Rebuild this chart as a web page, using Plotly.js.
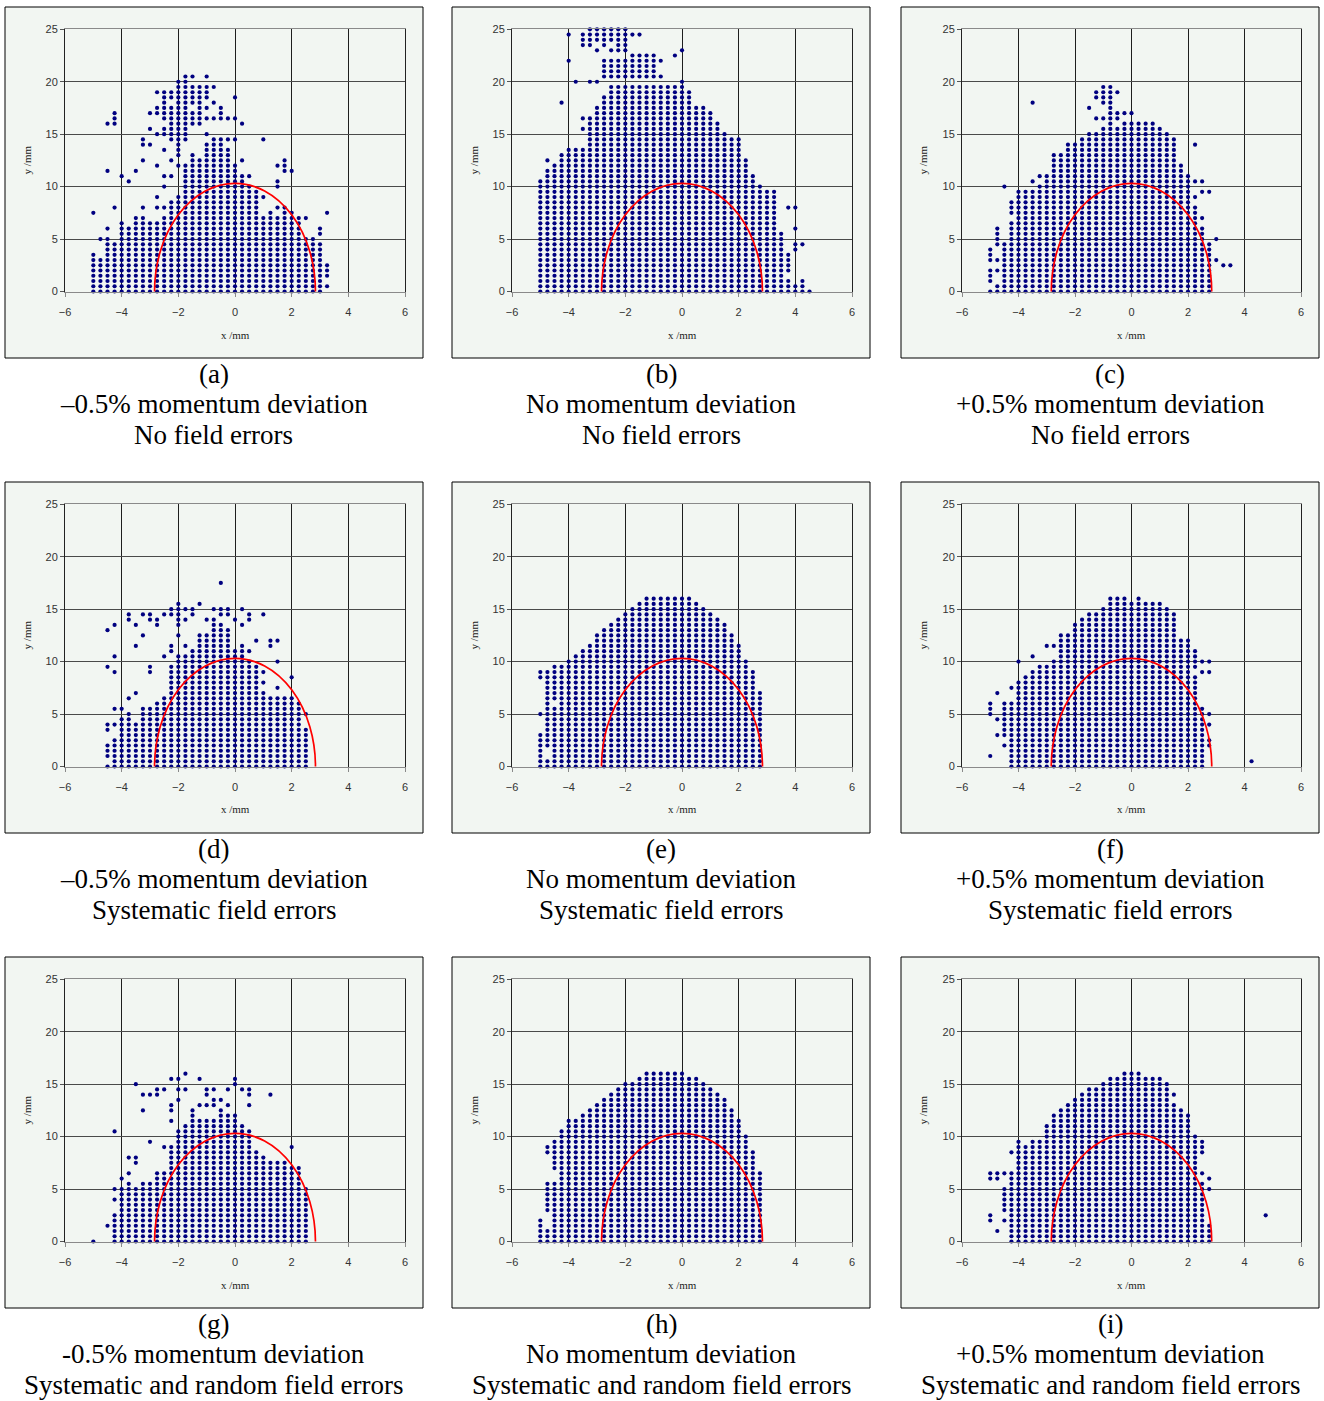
<!DOCTYPE html>
<html>
<head>
<meta charset="utf-8">
<script src="https://cdn.plot.ly/plotly-3.0.1.min.js"></script>
<style>html,body{margin:0;padding:0;background:#fff;}#chart{width:1324px;height:1401px;}</style>
</head>
<body>
<div id="chart"></div>
<script>
// Scan grid (mm)
const xCols = [-5,-4.75,-4.5,-4.25,-4,-3.75,-3.5,-3.25,-3,-2.75,-2.5,-2.25,-2,-1.75,-1.5,-1.25,-1,-0.75,-0.5,-0.25,
               0,0.25,0.5,0.75,1,1.25,1.5,1.75,2,2.25,2.5,2.75,3,3.25,3.5,3.75,4,4.25,4.5,4.75];
const yGrid = [0,0.5,1,1.5,2,2.5,3,3.5,4,4.5,5,5.5,6,6.5,7,7.5,8,8.5,9,9.5,10,10.5,11,11.5,12,12.5,
               13,13.5,14,14.5,15,15.5,16,16.5,17,17.5,18,18.5,19,19.5,20,20.5,21,21.5,22,22.5,23,23.5,24,24.5,25];

// Surviving y values per x column (index matches xCols): "lo-hi" runs or single values
const colsA = ["0-3.5,7.5","0-3,5","0-5,6,11.5,16","0-4.5,8,16-17","0-6.5,11","0-6,10.5","0-7,11.5","0-7,8,12.5,14-14.5",
  "0-6.5,14,15.5,17","0-6.5,8,9,12,15,17-17.5,19","0-7,8,10,11,13.5,15-15.5,16.5-19","0-8.5,11,12.5,14.5-17.5,18.5-19",
  "0-9,12,13-20","0-12,14.5-20.5","0-13,16-17,18-19.5,20.5","0-12.5,16-19.5","0-14,15,16.5,17.5,18.5-19.5,20.5",
  "0-14.5,16.5,18,19.5","0-14.5,16.5-17.5","0-13.5,14.5,16.5","0-12,14.5,16.5,18.5","0-11,12.5,16","0-10,11","0-9.5",
  "0-7,9,14.5","0-7.5","0-7,8,10-10.5,12","0-8,11.5-12.5","0-7.5,11.5","0-7","0-5,7","0-5","0-4.5,5.5-6","0.5,1.5-2.5,7.5"];
const colsB = ["0-10.5","0-11.5,12.5","0-12","0-13,18","0-13.5,22,24.5","0-13.5,20","0-13.5,15.5,16.5,23.5-24.5",
  "0-16.5,20,23.5-25","0-17.5,20,23,24-25","0-18.5,20.5-22,23.5-25","0-19.5,20.5-22,23,24-25","0-19.5,20.5-22,23-25",
  "0-19.5,20.5-22,23-25","0-19.5,20.5-22.5,24.5","0-19.5,20.5-22.5,24.5","0-19.5,20.5-22.5","0-19.5,20.5-22.5",
  "0-19.5,20.5,22","0-19.5","0-19.5,22.5","0-20,23","0-19","0-17.5","0-17.5","0-17","0-16","0-15","0-14.5","0-14.5",
  "0-12.5","0-11","0-10","0-9.5","0-9.5","0-5.5","0-1,2-3.5,8","0-0.5,4-4.5,6,8","0-1,4.5","0"];
const colsC = ["0,1-2,3-4","0-0.5,2,3,4.5,5-6","0-4.5,10","0-6.5,7.5-8.5","0-9.5","0-9.5","0-9.5,10.5,18","0-10,11","0-11",
  "0-13","0-13","0-14","0-14","0-14.5","0-15,17.5","0-15,16.5,18.5-19","0-15.5,16.5,18-19.5","0-19.5",
  "0-15.5,16.5-17,19","0-16,17","0-16,17","0-16","0-16","0-16","0-15.5","0-15","0-14.5","0-12","0-11",
  "0-8,9,10.5,14","0-6,7,9.5,10.5","0-4.5,9.5","3,5","2.5","2.5"];
const colsD = ["","","0,1-2,3.5-4,9.5,13","0-2.5,4,5.5,9,10.5,13.5","0-4.5,5.5","0-5,6.5,14-14.5","0-4,7,11.5,13.5",
  "0-5.5,12.5,14.5","0-5.5,9-9.5,14-14.5","0-6,13.5-14","0-6.5,10.5,14.5","0-9.5,11-11.5,14.5-15",
  "0-10.5,12.5,13.5-15.5","0-10.5,11.5,14,15","0-11,14.5-15","0-12.5,15.5","0-12.5,14","0-14,15","0-13.5,14.5-15,17.5",
  "0-13,14.5-15","0-11,14","0-11.5,13.5,15","0-10,11,14-14.5","0-9.5,12","0-7,8,9,14.5","0-6.5,11.5-12",
  "0-6.5,7.5,10,12","0-6.5","0-6.5,8.5","0-6","0-3.5,5"];
const colsE = ["0-3,5,8.5-9","0-0.5,2-9","0-5.5,6.5-9.5","0-9.5","0-10","0-10.5","0-11","0-11.5","0-12.5","0-13",
  "0-13.5","0-14","0-14.5","0-15","0-15.5","0-16","0-16","0-16","0-16","0-16","0-16","0-16","0-15.5","0-15",
  "0-14.5","0-14","0-13.5","0-12.5","0-11.5","0-10","0-9","0-7"];
const colsF = ["1,5-6","3,4.5,7","2,3-6","0-6,7.5","0-8,10","0-8.5","0-9,10.5","0-9.5","0-9.5,11.5","0-10,11.5",
  "0-12.5","0-12.5","0-13.5","0-14","0-14.5","0-14.5","0-15","0-16","0-16","0-16","0-15.5","0-16","0-15.5",
  "0-15.5","0-15.5","0-15","0-14.5","0-12","0-12","0-8.5,9.5-11","0-5.5,9,10","2-2.5,4,5,9,10","","","","","","0.5"];
const colsG = ["0","","1.5","0-2.5,4,5,10.5","0-5,6","0-5.5,6.5,8","0-5,7.5-8,15","0-5.5,12.5,14","0-5.5,9.5,14",
  "0-6.5,14-14.5","0-6.5,9,14.5","0-9,11.5,12.5-13,15.5","0-10.5,13.5,14.5,15.5","0-11,14.5,16","0-12.5",
  "0-11.5,13,15.5","0-11.5,13,14-14.5","0-11.5,13-13.5,14.5","0-12.5,13.5","0-12,13,14.5","0-12,15-15.5",
  "0-11,14.5","0-10.5,13,14-14.5","0-8.5","0-8","0-7.5,14","0-7.5","0-7.5","0-7,9","0-7","0-5"];
const colsH = ["0-2","0-1,3-5.5,8.5-9","0-5.5,7-9.5","0-10.5","0-11.5","0-11.5","0-12","0-12.5","0-13","0-13.5",
  "0-14","0-14.5","0-15","0-15","0-15.5","0-16","0-16","0-16","0-16","0-16","0-16","0-15.5","0-15.5","0-15",
  "0-14.5","0-14","0-13.5","0-12.5","0-11.5","0-10","0-8.5","0-6.5"];
const colsI = ["2-2.5,6-6.5","1,6-6.5","2,3-5,6.5","0-6.5,8.5","0-9.5","0-9","0-9.5","0-9.5","0-11","0-12","0-12.5",
  "0-13","0-13.5","0-14","0-14.5","0-14.5","0-15","0-15.5","0-15.5","0-16","0-16","0-16","0-15.5","0-15.5",
  "0-15.5","0-15","0-13,14","0-12.5","0-12","0-10","0-5.5,6.5,8.5-9.5","0-1.5,5,6","","","","","","","","2.5"];

// Physical aperture (semi-ellipse), mm
const apertureHalfWidth = 2.84;
const apertureHeight = 10.3;

// Captions
const panelLabels = ["(a)","(b)","(c)","(d)","(e)","(f)","(g)","(h)","(i)"];
const momentumText = ["\u20130.5% momentum deviation","No momentum deviation","+0.5% momentum deviation",
  "\u20130.5% momentum deviation","No momentum deviation","+0.5% momentum deviation",
  "-0.5% momentum deviation","No momentum deviation","+0.5% momentum deviation"];
const errorText = ["No field errors","No field errors","No field errors",
  "Systematic field errors","Systematic field errors","Systematic field errors",
  "Systematic and random field errors","Systematic and random field errors","Systematic and random field errors"];

const allCols = [colsA,colsB,colsC,colsD,colsE,colsF,colsG,colsH,colsI];

function expand(cols){
  const xs=[], ys=[];
  cols.forEach((spec,j)=>{
    if(!spec) return;
    spec.split(',').forEach(tok=>{
      const p = tok.split('-').map(Number);
      const lo = p[0], hi = p.length>1 ? p[1] : p[0];
      yGrid.forEach(y=>{ if(y>=lo-1e-9 && y<=hi+1e-9){ xs.push(xCols[j]); ys.push(y); } });
    });
  });
  return {xs,ys};
}

const W=1324, H=1401;
const plotX = [[65,405],[512,852],[962,1301]];
const plotY = [[29.3,291.5],[504.3,766.5],[979.3,1241.5]];
const boxX = [[5,423],[452,870],[901,1319]];
const boxY = [[7,358],[482,833],[957,1308]];
const capX = [214,661,1110];
const capY = [[374,404,435],[849,879,910],[1324,1354,1385]];
const bg = '#f2f6f2';

const data=[], shapes=[], annotations=[];
const layout = {width:W,height:H,margin:{l:0,r:0,t:0,b:0},paper_bgcolor:'#ffffff',plot_bgcolor:bg,showlegend:false};

for(let p=0;p<9;p++){
  const r=Math.floor(p/3), c=p%3;
  const sfx = p===0 ? '' : String(p+1);
  const {xs,ys} = expand(allCols[p]);
  data.push({type:'scatter',mode:'markers',x:xs,y:ys,xaxis:'x'+sfx,yaxis:'y'+sfx,cliponaxis:false,
    marker:{size:4.2,color:'#000080',symbol:'circle'},hoverinfo:'skip'});
  const common = {showgrid:true,zeroline:false,showline:true,mirror:true,ticks:'outside',ticklen:4,
    tickfont:{family:'Liberation Sans, Arial, sans-serif',size:11,color:'#333'},fixedrange:true};
  layout['xaxis'+sfx] = Object.assign({},common,{domain:[plotX[c][0]/W,plotX[c][1]/W],range:[-6,6],
    tickvals:[-6,-4,-2,0,2,4,6],gridcolor:'#1e1e1e',gridwidth:1,linecolor:'#8a8a8a',linewidth:1.5,tickcolor:'#8a8a8a',
    anchor:'y'+sfx,ticklabelstandoff:6});
  layout['yaxis'+sfx] = Object.assign({},common,{domain:[1-plotY[r][1]/H,1-plotY[r][0]/H],range:[0,25],
    tickvals:[0,5,10,15,20,25],gridcolor:'#4a4a4a',gridwidth:1,linecolor:'#222',linewidth:1,tickcolor:'#555',
    anchor:'x'+sfx});
  // panel frame
  shapes.push({type:'rect',xref:'paper',yref:'paper',layer:'below',
    x0:boxX[c][0]/W,x1:boxX[c][1]/W,y0:1-boxY[r][1]/H,y1:1-boxY[r][0]/H,fillcolor:bg,line:{color:'#000',width:1}});
  // aperture ellipse (lower half clipped by the axes)
  shapes.push({type:'circle',xref:'x'+sfx,yref:'y'+sfx,layer:'above',
    x0:-apertureHalfWidth,x1:apertureHalfWidth,y0:-apertureHeight,y1:apertureHeight,line:{color:'#ff0000',width:1.7}});
  // axis titles
  const cx=(plotX[c][0]+plotX[c][1])/2, cy=(plotY[r][0]+plotY[r][1])/2;
  annotations.push({xref:'paper',yref:'paper',x:cx/W,y:1-(plotY[r][1]+43)/H,text:'x /mm',showarrow:false,
    xanchor:'center',yanchor:'middle',font:{family:'Liberation Serif, Times New Roman, serif',size:11,color:'#222'}});
  annotations.push({xref:'paper',yref:'paper',x:(boxX[c][0]+22)/W,y:1-cy/H,text:'y /mm',showarrow:false,textangle:-90,
    xanchor:'center',yanchor:'middle',font:{family:'Liberation Serif, Times New Roman, serif',size:11,color:'#222'}});
  // captions
  const lines=[panelLabels[p],momentumText[p],errorText[p]];
  lines.forEach((t,k)=>{
    annotations.push({xref:'paper',yref:'paper',x:capX[c]/W,y:1-capY[r][k]/H,text:t,showarrow:false,
      xanchor:'center',yanchor:'middle',font:{family:'Liberation Serif, Times New Roman, serif',size:27,color:'#000'}});
  });
}
layout.shapes=shapes;
layout.annotations=annotations;
Plotly.newPlot('chart',data,layout,{staticPlot:true,displayModeBar:false});
</script>
</body>
</html>
